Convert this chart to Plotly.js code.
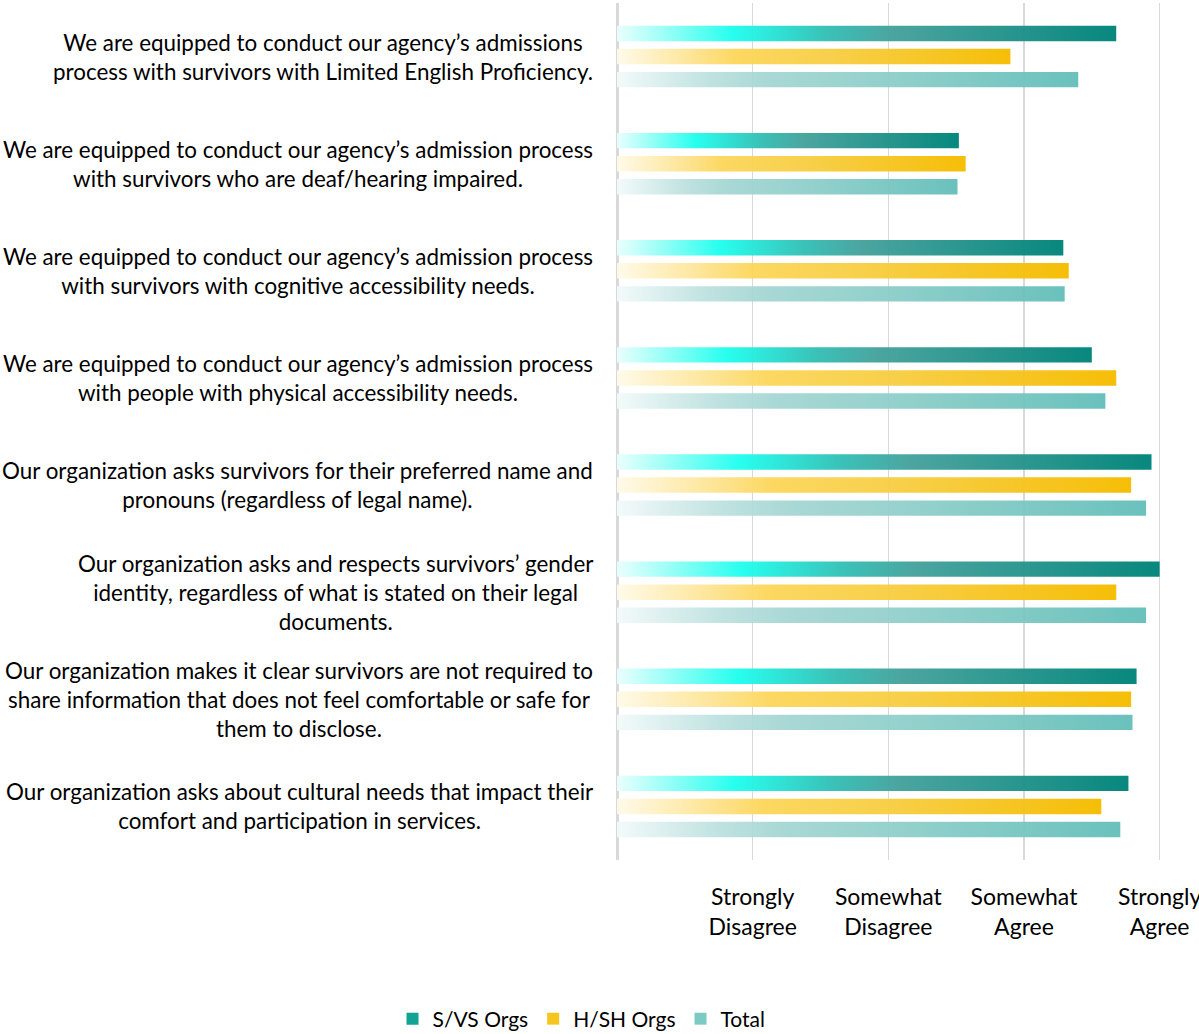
<!DOCTYPE html>
<html>
<head>
<meta charset="utf-8">
<script src="https://cdn.plot.ly/plotly-3.0.1.min.js"></script>
<style>
  html, body { margin: 0; padding: 0; background: #ffffff; }
  #chart { width: 1199px; height: 1034px; }
</style>
</head>
<body>
<div id="chart"></div>
<script>
// ---- Data ----
const categories = [
  "We are equipped to conduct our agency\u2019s admissions<br>process with survivors with Limited English Proficiency.",
  "We are equipped to conduct our agency\u2019s admission process<br>with survivors who are deaf/hearing impaired.",
  "We are equipped to conduct our agency\u2019s admission process<br>with survivors with cognitive accessibility needs.",
  "We are equipped to conduct our agency\u2019s admission process<br>with people with physical accessibility needs.",
  "Our organization asks survivors for their preferred name and<br>pronouns (regardless of legal name).",
  "Our organization asks and respects survivors\u2019 gender<br>identity, regardless of what is stated on their legal<br>documents.",
  "Our organization makes it clear survivors are not required to<br>share information that does not feel comfortable or safe for<br>them to disclose.",
  "Our organization asks about cultural needs that impact their<br>comfort and participation in services."
];
const svsOrgs = [3.68, 2.52, 3.29, 3.50, 3.94, 4.00, 3.83, 3.77];
const hshOrgs = [2.90, 2.57, 3.33, 3.68, 3.79, 3.68, 3.79, 3.57];
const totalVals = [3.40, 2.51, 3.30, 3.60, 3.90, 3.90, 3.80, 3.71];
const seriesNames = ["S/VS Orgs", "H/SH Orgs", "Total"];
const xTickVals = [1, 2, 3, 4];
const xTickText = ["Strongly<br>Disagree", "Somewhat<br>Disagree", "Somewhat<br>Agree", "Strongly<br>Agree"];

// ---- Styles ----
const FONT = "Lato, 'Open Sans', sans-serif";
const gradients = [
  [[0, "rgba(232,255,253,0.92)"], [0.23, "rgba(28,255,238,0.95)"], [0.42, "rgba(48,190,180,0.95)"], [0.55, "rgba(66,160,154,0.95)"], [1, "rgba(0,132,122,0.97)"]],
  [[0, "rgba(255,250,232,0.92)"], [0.2, "rgba(253,226,140,0.95)"], [0.3, "rgba(252,214,90,0.95)"], [0.55, "rgba(247,205,64,0.95)"], [1, "rgba(245,188,0,0.97)"]],
  [[0, "rgba(242,250,250,0.92)"], [0.2, "rgba(186,224,222,0.92)"], [0.32, "rgba(162,213,210,0.92)"], [0.55, "rgba(142,206,201,0.93)"], [1, "rgba(98,190,185,0.95)"]]
];
const legendColors = ["#12a394", "#f7c520", "#7ccac4"];
const offsets = [-0.215, 0, 0.215];
const halfH = 0.072;

const allSeries = [svsOrgs, hshOrgs, totalVals];
const traces = [];
allSeries.forEach((vals, s) => {
  vals.forEach((v, i) => {
    const yc = i + offsets[s];
    traces.push({
      type: "scatter",
      mode: "lines",
      x: [0, v, v, 0, 0],
      y: [yc - halfH, yc - halfH, yc + halfH, yc + halfH, yc - halfH],
      fill: "toself",
      fillcolor: legendColors[s],
      fillgradient: { type: "horizontal", colorscale: gradients[s] },
      line: { width: 0, color: "rgba(0,0,0,0)" },
      name: seriesNames[s],
      legendgroup: seriesNames[s],
      showlegend: false,
      hoverinfo: "skip"
    });
  });
});
// legend-only entries (square swatches like the original)
seriesNames.forEach((n, s) => {
  traces.push({
    type: "bar",
    orientation: "h",
    x: [null],
    y: [null],
    name: n,
    legendgroup: n,
    marker: { color: legendColors[s], line: { width: 0 } },
    showlegend: true,
    hoverinfo: "skip"
  });
});

const annotations = categories.map((c, i) => ({
  text: c,
  xref: "paper", yref: "y",
  x: 0, y: i,
  xanchor: "right", yanchor: "middle",
  xshift: -22,
  align: "center",
  showarrow: false,
  font: { family: FONT, size: 22.4, color: "#000000" }
}));

const layout = {
  width: 1199, height: 1034,
  margin: { l: 617, r: 37.6, t: 3, b: 174 },
  paper_bgcolor: "#ffffff",
  plot_bgcolor: "#ffffff",
  showlegend: true,
  hovermode: false,
  xaxis: {
    range: [0, 4.01],
    tickvals: xTickVals,
    ticktext: xTickText,
    ticklabeloverflow: "allow",
    showgrid: true,
    gridcolor: "#d9d9d9",
    gridwidth: 1.5,
    zeroline: true,
    zerolinecolor: "#d9d9d9",
    zerolinewidth: 3,
    showline: false,
    ticks: "outside",
    ticklen: 16,
    tickcolor: "rgba(0,0,0,0)",
    tickfont: { family: FONT, size: 23, color: "#000000" },
    fixedrange: true
  },
  yaxis: {
    range: [7.5, -0.5],
    showticklabels: false,
    showgrid: false,
    zeroline: false,
    showline: false,
    ticks: "",
    fixedrange: true
  },
  legend: {
    orientation: "h",
    xref: "container", yref: "container",
    x: 0.485, xanchor: "center",
    y: 0.0145, yanchor: "middle",
    font: { family: FONT, size: 21, color: "#000000" },
    traceorder: "normal"
  },
  annotations: annotations
};

Plotly.newPlot("chart", traces, layout, { displayModeBar: false, staticPlot: true });
</script>
</body>
</html>
